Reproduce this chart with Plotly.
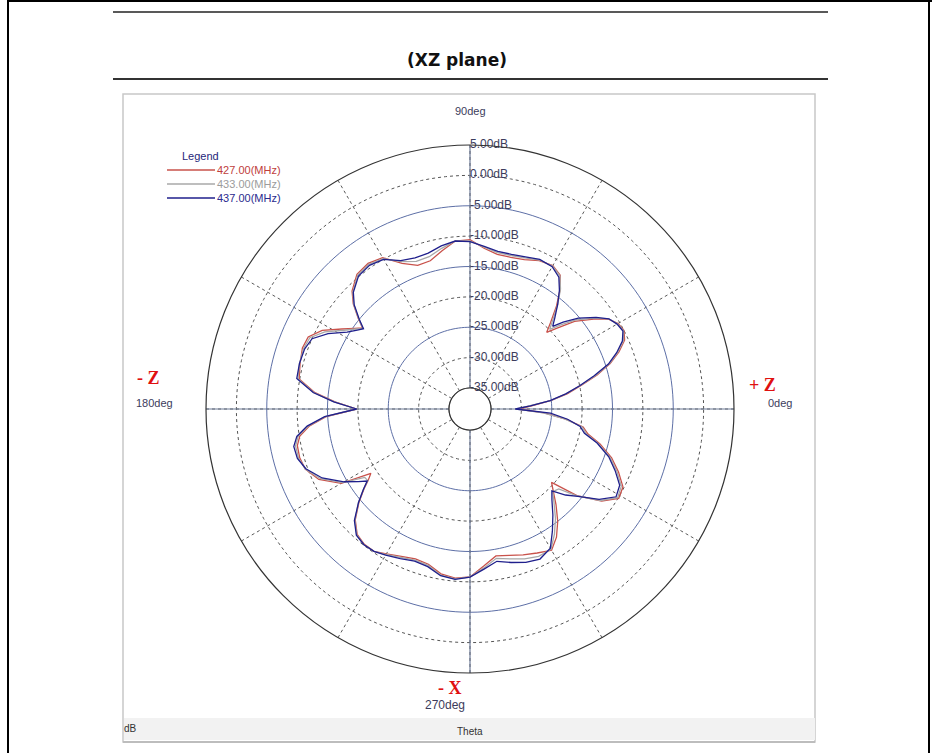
import plotly.graph_objects as go

# ---------------- data ----------------
theta = [0, 3, 6, 9, 12, 15, 18, 21, 24, 27, 30, 33, 36, 40, 43, 45, 47, 50, 53, 56,
         60, 65, 70, 75, 80, 85, 90, 95, 100, 105, 110, 115, 120, 125, 130, 135, 138,
         141, 143, 145, 148, 152, 156, 160, 165, 170, 174, 177, 180, 183, 186, 189, 192,
         196, 200, 205, 210, 213, 215, 217, 220, 224, 228, 232, 236, 240, 245, 250, 255,
         260, 265, 270, 275, 280, 285, 290, 295, 300, 304, 308, 312, 315, 318, 321, 325,
         329, 333, 337, 341, 345, 348, 351, 354, 357, 360]

gain_427 = [-30.5, -28.3, -25.0, -22.2, -19.7, -16.8, -14.2, -12.2, -10.6, -10.0, -10.3, -11.3,
            -13.3, -16.0, -19.0, -20.6, -19.0, -16.3, -13.8, -11.9, -11.2, -11.5, -12.3, -12.6,
            -12.6, -11.9, -10.6, -10.7, -12.0, -13.2, -13.3, -12.0, -9.7, -9.2, -9.5, -11.0,
            -12.6, -14.8, -16.3, -15.3, -13.6, -10.9, -9.3, -9.1, -9.5, -9.9, -12.8, -16.2,
            -19.8, -14.8, -11.9, -10.1, -9.4, -9.3, -9.6, -11.0, -14.0, -19.0, -18.0, -16.6,
            -14.6, -12.2, -10.7, -10.2, -10.2, -10.9, -11.7, -12.2, -12.0, -10.9, -10.5, -10.8,
            -12.5, -13.9, -13.5, -12.9, -12.3, -11.6, -13.0, -15.0, -17.3, -19.0, -20.4, -15.8,
            -12.0, -9.9, -10.2, -11.9, -13.8, -16.3, -18.6, -19.6, -22.6, -26.2, -30.5]

gain_433 = [-30.8, -28.7, -25.1, -22.4, -19.9, -17.0, -14.3, -12.4, -10.8, -10.1, -10.4, -11.2,
            -13.0, -15.6, -18.2, -19.9, -18.5, -16.0, -13.7, -12.0, -11.3, -11.4, -12.0, -12.3,
            -12.3, -11.7, -10.8, -10.7, -11.6, -12.5, -12.6, -11.7, -9.9, -9.4, -9.7, -11.2,
            -12.7, -14.9, -16.4, -15.5, -14.0, -11.4, -9.6, -9.3, -9.4, -9.7, -12.6, -16.1,
            -19.8, -14.6, -11.7, -9.8, -9.1, -9.1, -9.6, -11.3, -14.2, -17.8, -17.9, -16.5,
            -14.5, -12.1, -10.6, -10.1, -10.2, -10.8, -11.5, -12.0, -11.8, -10.7, -10.4, -10.8,
            -12.2, -13.5, -12.9, -12.2, -11.7, -11.8, -13.6, -15.6, -17.8, -19.2, -18.8, -15.7,
            -12.2, -10.1, -10.5, -12.2, -14.1, -16.6, -18.9, -19.8, -22.8, -26.4, -30.8]

gain_437 = [-31.0, -28.5, -25.2, -22.5, -20.0, -17.3, -14.5, -12.6, -11.0, -10.2, -10.5, -11.2,
            -12.8, -15.2, -17.5, -19.2, -18.0, -16.0, -14.0, -12.3, -11.4, -11.3, -11.8, -12.1,
            -12.1, -11.6, -10.9, -10.7, -11.2, -11.9, -12.0, -11.5, -10.0, -9.6, -9.9, -11.3,
            -12.8, -15.0, -16.5, -15.8, -14.6, -12.0, -10.0, -9.5, -9.4, -9.5, -12.5, -16.0,
            -19.8, -14.5, -11.5, -9.6, -8.8, -8.9, -9.7, -11.6, -14.5, -16.5, -17.8, -16.5,
            -14.5, -12.0, -10.5, -10.1, -10.2, -10.7, -11.3, -11.8, -11.6, -10.6, -10.3, -10.8,
            -12.0, -13.0, -12.3, -11.6, -11.2, -12.0, -14.2, -16.3, -18.3, -19.4, -17.3, -15.6,
            -12.5, -10.4, -10.8, -12.5, -14.3, -16.8, -19.2, -20.1, -22.3, -25.2, -31.0]

series_names = ["427.00(MHz)", "433.00(MHz)", "437.00(MHz)"]
series_colors = ["#c9524b", "#a8a8a8", "#1f1f8c"]
legend_text_colors = ["#c0403c", "#9c9c9c", "#2a2a8e"]

r_ticks = [5, 0, -5, -10, -15, -20, -25, -30, -35]
r_tick_text = ["5.00dB", "0.00dB", "-5.00dB", "-10.00dB", "-15.00dB", "-20.00dB",
               "-25.00dB", "-30.00dB", "-35.00dB"]
dashed_rings = [0, -10, -20, -30]
solid_rings = [-5, -15, -25]
spoke_angles = [0, 90, 180, 270]

# ---------------- geometry ----------------
W, H = 932, 753
cx, cy, R = 470, 409, 264


def px(x):
    return x / W


def py(y):
    return 1 - y / H


fig = go.Figure()

ring_theta = list(range(0, 361, 2))
for rv in dashed_rings:
    fig.add_trace(go.Scatterpolar(r=[rv] * len(ring_theta), theta=ring_theta, mode="lines",
                                  line=dict(color="#555555", width=1, dash="3px,3px"),
                                  hoverinfo="skip", showlegend=False))
for rv in solid_rings:
    fig.add_trace(go.Scatterpolar(r=[rv] * len(ring_theta), theta=ring_theta, mode="lines",
                                  line=dict(color="#5d6fa6", width=1),
                                  hoverinfo="skip", showlegend=False))
fig.add_trace(go.Scatterpolar(r=[-35] * len(ring_theta), theta=ring_theta, mode="lines",
                              line=dict(color="#333333", width=1),
                              hoverinfo="skip", showlegend=False))
for a in spoke_angles:
    fig.add_trace(go.Scatterpolar(r=[-35, 5], theta=[a, a], mode="lines",
                                  line=dict(color="#6d7a96", width=1.2),
                                  hoverinfo="skip", showlegend=False))

for name, vals, col in zip(series_names, [gain_427, gain_433, gain_437], series_colors):
    fig.add_trace(go.Scatterpolar(r=vals, theta=theta, mode="lines", name=name,
                                  line=dict(color=col, width=1.3), showlegend=False))

# radial tick labels
fig.add_trace(go.Scatterpolar(r=r_ticks, theta=[90] * len(r_ticks), mode="text",
                              text=r_tick_text, textposition="middle right",
                              textfont=dict(family="Liberation Sans", size=12, color="#3c3c5c"),
                              hoverinfo="skip", showlegend=False, cliponaxis=False))

fig.update_layout(
    width=W, height=H, margin=dict(l=0, r=0, t=0, b=0),
    paper_bgcolor="white", plot_bgcolor="white",
    showlegend=False,
    polar=dict(
        domain=dict(x=[px(cx - R), px(cx + R)], y=[py(cy + R), py(cy - R)]),
        bgcolor="white",
        hole=21 / 264,
        radialaxis=dict(range=[-35, 5], showgrid=False, showticklabels=False, ticks="",
                        showline=False, angle=90),
        angularaxis=dict(rotation=0, direction="counterclockwise", dtick=30,
                         showgrid=True, gridcolor="#5a5a5a", griddash="3px,3px", gridwidth=1,
                         showticklabels=False, ticks="", showline=True,
                         linecolor="#333333", linewidth=1.2),
    ),
)

shapes = []
# page border
shapes.append(dict(type="line", xref="paper", yref="paper", x0=px(8), x1=px(8), y0=0, y1=1,
                   line=dict(color="black", width=2)))
shapes.append(dict(type="line", xref="paper", yref="paper", x0=px(929), x1=px(929), y0=0, y1=1,
                   line=dict(color="black", width=2)))
shapes.append(dict(type="line", xref="paper", yref="paper", x0=px(8), x1=px(932), y0=py(1), y1=py(1),
                   line=dict(color="black", width=2)))
# title rules
shapes.append(dict(type="line", xref="paper", yref="paper", x0=px(113), x1=px(828), y0=py(12), y1=py(12),
                   line=dict(color="#222222", width=1.5)))
shapes.append(dict(type="line", xref="paper", yref="paper", x0=px(113), x1=px(828), y0=py(79), y1=py(79),
                   line=dict(color="#333333", width=2)))
# chart frame
shapes.append(dict(type="rect", xref="paper", yref="paper", x0=px(123), x1=px(815), y0=py(742), y1=py(94),
                   line=dict(color="#c8c8c8", width=1.5), fillcolor="rgba(0,0,0,0)", layer="below"))
shapes.append(dict(type="rect", xref="paper", yref="paper", x0=px(124), x1=px(815), y0=py(740), y1=py(718),
                   line=dict(width=0), fillcolor="#f2f2f2", layer="below"))
shapes.append(dict(type="line", xref="paper", yref="paper", x0=px(123), x1=px(815), y0=py(742), y1=py(742),
                   line=dict(color="#bdbdbd", width=2)))
# legend line samples
for i, col in enumerate(series_colors):
    yy = 170 + 14 * i
    shapes.append(dict(type="line", xref="paper", yref="paper", x0=px(167), x1=px(215),
                       y0=py(yy), y1=py(yy), line=dict(color=col, width=1.3)))
fig.update_layout(shapes=shapes)

ann = []


def text(x, y, s, size=11, color="#333344", family="Liberation Sans", xanchor="center", bold=False):
    if bold:
        s = "<b>" + s + "</b>"
    ann.append(dict(x=px(x), y=py(y), xref="paper", yref="paper", text=s, showarrow=False,
                    xanchor=xanchor, yanchor="middle", font=dict(size=size, color=color, family=family)))


text(457, 60, "(XZ plane)", size=17, color="#111111", family="DejaVu Sans", bold=True)
text(470, 111, "90deg", size=11, color="#3c3c5c")
text(154, 403, "180deg", size=11, color="#3c3c5c")
text(780, 403, "0deg", size=11, color="#3c3c5c")
text(445, 705, "270deg", size=12, color="#3c3c5c")
text(148, 378, "- Z", size=18, color="#e01010", family="Liberation Serif", bold=True)
text(762, 385, "+ Z", size=18, color="#e01010", family="Liberation Serif", bold=True)
text(450, 688, "- X", size=18, color="#e01010", family="Liberation Serif", bold=True)
text(130, 728, "dB", size=10, color="#333333")
text(470, 731, "Theta", size=10, color="#333333")
text(180, 156, "Legend", size=11, color="#1f1f7a", xanchor="left")
for i, (nm, col) in enumerate(zip(series_names, legend_text_colors)):
    text(215, 170 + 14 * i, nm, size=11, color=col, xanchor="left")
fig.update_layout(annotations=ann)

fig.write_html("out.html", config={"displayModeBar": False},
               post_script="document.body.style.margin='0px';")
